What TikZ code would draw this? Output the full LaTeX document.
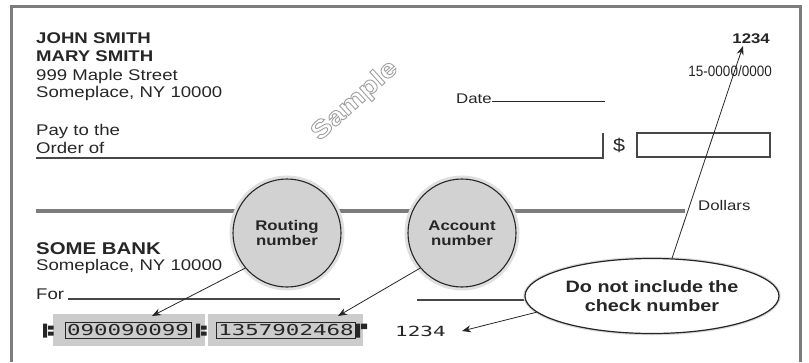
\documentclass[tikz,border=0pt]{standalone}
\usepackage{fontspec}
\setmainfont{Liberation Sans}[FakeStretch=1.2]
\newfontfamily\condfont{Liberation Sans}[FakeStretch=0.9]
\newfontfamily\micrfont{DejaVu Sans Mono}[FakeStretch=1.5]
\usetikzlibrary{shapes.geometric, arrows.meta, positioning}

\definecolor{ink}{HTML}{262626}
\definecolor{rule}{HTML}{7C7C7C}
\definecolor{disc}{HTML}{D2D2D2}
\definecolor{micrgray}{HTML}{CCCCCC}
\newcommand{\fsz}[1]{\fontsize{#1}{#1}\selectfont}
% outlined text (stroke only)
\newcommand{\outlined}[1]{\special{pdf:literal 1 Tr 0.9 w}#1\special{pdf:literal 0 Tr}}

\begin{document}
\begin{tikzpicture}[x=1pt, y=-1pt, >={Stealth[length=9pt, width=7pt]},
  txt/.style={ink, inner sep=0pt, anchor=base west, font=\fsz{15.5}},
  txtbold/.style={txt, font=\bfseries\fsz{15.5}},
  callout/.style={circle, draw=ink, fill=disc, line width=1.1pt, minimum size=108pt,
    preaction={draw=gray!25, line width=7pt}, align=center, text=ink,
    font=\bfseries\fontsize{14}{14.5}\selectfont},
  micrbox/.style={fill=micrgray, minimum height=32pt, inner sep=0pt},
  digits/.style={draw=ink, line width=0.9pt, font=\micrfont\fsz{15}, text=ink,
    inner xsep=2pt, inner ysep=2.5pt, text height=11pt, text depth=0pt},
  pointer/.style={->, ink, line width=0.8pt}]
  \useasboundingbox (0,0) rectangle (809,362);

  % Check frame, open at the bottom
  \draw[rule, line width=3pt] (11.5,362) -- (11.5,6) -- (800,6) -- (800,362);

  % Account holder
  \node[txtbold] (john) at (36,43) {JOHN SMITH};
  \node[txtbold] (mary) at (36,61) {MARY SMITH};
  \node[txt] (street) at (36,80) {999 Maple Street};
  \node[txt] (city) at (36,97) {Someplace, NY 10000};

  % Check number and fraction code
  \node[txtbold, anchor=base east, font=\bfseries\fsz{14}] (chknum) at (770,43) {1234};
  \node[txt, anchor=base east, font=\condfont\fsz{15}] (fraction) at (772,76) {15-0000/0000};

  % Sample stamp
  \node[text=gray!75, rotate=42, font=\bfseries\fsz{25}] (sample) at (355,101) {\outlined{Sample}};

  % Date
  \node[txt, font=\fsz{14}] (date) at (456,103) {Date};
  \draw[ink, line width=1pt] (492,101) -- (605,101);

  % Pay to the order of
  \node[txt] (payto) at (36,135) {Pay to the};
  \node[txt] (orderof) at (36,153) {Order of};
  \draw[ink!85, line width=1.5pt] (36,158) -- (603,158) -- (603,133);
  \node[txt, font=\fsz{18}] (dollar) at (613,151) {\$};
  \draw[ink!85, line width=1.3pt] (637,133) rectangle (770,157);

  % Dollars line
  \draw[rule, line width=4pt] (36,211) -- (685,211);
  \node[txt, font=\fsz{14}] (dollars) at (698,210) {Dollars};

  % Bank
  \node[txtbold, font=\bfseries\fsz{17}] (bank) at (36,254) {SOME BANK};
  \node[txt] (bankcity) at (36,270) {Someplace, NY 10000};

  % Memo line
  \node[txt] (memo) at (36,299) {For};
  \draw[ink!85, line width=1.2pt] (68,299) -- (340,299);
  \draw[ink!85, line width=1.2pt] (417,300) -- (600,300);

  % MICR line
  \node[micrbox, minimum width=152pt] (rbox) at (129,330) {};
  \node[micrbox, minimum width=155pt] (abox) at (285.5,330) {};
  \node[digits] (routingnum) at (128,330) {090090099};
  \node[digits] (accountnum) at (286,330) {1357902468};
  \node[inner sep=0pt, anchor=west, font=\micrfont\fsz{14}, text=ink] (micrchk) at (395,331) {1234};
  % transit and on-us symbols
  \fill[ink] (43,323.5) rectangle (47,337.5) (48,325.5) rectangle (53.5,329.5) (48,331.5) rectangle (53.5,335.5);
  \fill[ink] (196,323.5) rectangle (200,337.5) (201,325.5) rectangle (206.5,329.5) (201,331.5) rectangle (206.5,335.5);
  \fill[ink] (356,323.5) rectangle (360,337.5) (361,323.5) rectangle (367,329);

  % Callouts
  \node[callout] (routing) at (287,233) {Routing\\number};
  \node[callout] (account) at (462,233) {Account\\number};
  \node[ellipse, draw=ink, fill=white, line width=1.2pt, minimum width=254pt, minimum height=75pt,
    preaction={draw=gray!30, line width=3.5pt}, align=center, text=ink,
    font=\bfseries\fontsize{16.5}{19}\selectfont] (note) at (652,296) {Do not include the\\check number};

  % Pointer ends
  \coordinate (rtip) at (152,316);
  \coordinate (atip) at (338,316);
  \coordinate (ctip) at (462,331);
  \coordinate (ttip) at (743,46);

  \draw[pointer] (routing.220) -- (rtip);
  \draw[pointer] (account.220) -- (atip);
  \draw[pointer] (note.188) -- (ctip);
  \draw[pointer] (note.62) -- (ttip);
\end{tikzpicture}
\end{document}
